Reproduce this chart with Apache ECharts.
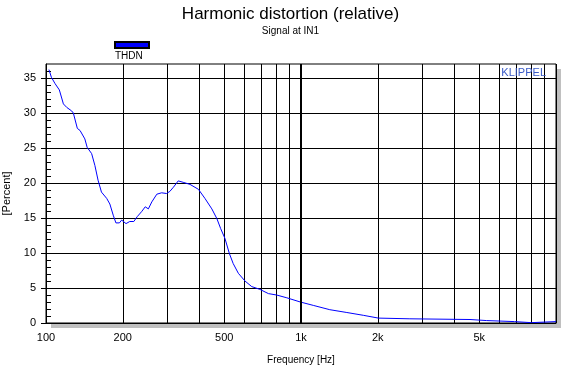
<!DOCTYPE html>
<html>
<head>
<meta charset="utf-8">
<script src="https://cdn.jsdelivr.net/npm/echarts@6/dist/echarts.min.js"></script>
<style>html,body{margin:0;padding:0;background:#fff;}#c{width:581px;height:369px;}</style>
</head>
<body>
<div id="c"></div>
<script>
// Data
var freq = [102.7,105,108.5,112.8,117,120.6,126,128,132.7,136,142,145,151,155.5,160,165,173,178,183.5,188,194,198,206,213,221,228,237,245,252,260,272,284,297,306,316,330,345,367,396,420,447,468,484,503,524,542,568,603,641,690,745,802,880,994,1122,1297,1513,1755,2012,2673,2720,4600,4670,5330,5420,6880,7000,8000,8130,10000];
var thdn = [36.2,35.1,34.2,33.3,31.3,30.8,30.3,30.0,27.8,27.5,26.3,25.1,24.2,22.5,20.4,18.7,17.8,17.0,15.4,14.3,14.3,14.7,14.2,14.5,14.5,15.2,15.9,16.6,16.3,17.3,18.4,18.6,18.5,18.8,19.4,20.3,20.1,19.8,19.1,17.8,16.3,14.9,13.5,12.1,9.9,8.5,7.1,6.0,5.2,4.8,4.2,4.0,3.6,3.0,2.5,1.9,1.5,1.1,0.7,0.6,0.5,0.5,0.35,0.35,0.2,0.2,0.05,0.05,0.2,0.2];
var xGridValues = [100,200,300,400,500,600,700,800,900,1000,2000,3000,4000,5000,6000,7000,8000,9000,10000];
var xLabelValues = [100,200,500,1000,2000,5000];
var yLabelValues = [0,5,10,15,20,25,30,35];
var yMinorValues = [1,2,3,4,6,7,8,9,11,12,13,14,16,17,18,19,21,22,23,24,26,27,28,29,31,32,33,34,36];
var thickLine = [1000];

var font = '"Liberation Sans", Arial, sans-serif';
var chart = echarts.init(document.getElementById('c'), null, {renderer: 'canvas'});
var seriesData = freq.map(function (f, i) { return [f, thdn[i]]; });
var gridBox = {left: 46, right: 25, top: 64, bottom: 46, containLabel: false, outerBoundsMode: 'none'};

chart.setOption({
  animation: false,
  backgroundColor: '#fff',
  title: [
    {
      text: 'Harmonic distortion (relative)',
      subtext: 'Signal at IN1',
      left: 'center',
      top: 1,
      itemGap: 3,
      textStyle: {fontFamily: font, fontSize: 17, fontWeight: 'normal', color: '#000'},
      subtextStyle: {fontFamily: font, fontSize: 10, color: '#000'}
    },
    {
      text: 'KLIPPEL',
      right: 35,
      top: 67,
      padding: 0,
      textStyle: {fontFamily: font, fontSize: 11, fontWeight: 'normal', color: '#3a5bc8'}
    },
    {
      text: 'THDN',
      left: 115,
      top: 51,
      padding: 0,
      textStyle: {fontFamily: font, fontSize: 10, fontWeight: 'normal', color: '#000'}
    }
  ],
  legend: {
    left: 114,
    top: 41,
    padding: 0,
    icon: 'rect',
    itemWidth: 34,
    itemHeight: 6,
    data: ['THDN'],
    formatter: function () { return ''; },
    textStyle: {fontSize: 1}
  },
  grid: [
    Object.assign({
      show: true,
      backgroundColor: '#fff',
      borderWidth: 0,
      borderColor: 'transparent',
      shadowColor: '#c0c0c0',
      shadowBlur: 0,
      shadowOffsetX: 5,
      shadowOffsetY: 5
    }, gridBox),
    Object.assign({
      show: true,
      backgroundColor: 'transparent',
      borderColor: '#000',
      borderWidth: 1
    }, gridBox)
  ],
  xAxis: [
    {
      type: 'log',
      gridIndex: 0,
      logBase: 10,
      min: 100,
      max: 10000,
      name: 'Frequency [Hz]',
      nameLocation: 'middle',
      nameGap: 32,
      nameTextStyle: {fontFamily: font, fontSize: 10, color: '#000'},
      axisLine: {show: true, lineStyle: {color: '#000', width: 1}},
      axisTick: {show: false, customValues: xGridValues},
      splitLine: {show: true, lineStyle: {color: '#000', width: 1}},
      axisLabel: {
        customValues: xLabelValues,
        margin: 9,
        fontFamily: font, fontSize: 11, color: '#000',
        formatter: function (v) { return v >= 1000 ? (v / 1000) + 'k' : String(v); }
      }
    },
    {
      type: 'log',
      gridIndex: 1,
      min: 100,
      max: 10000,
      show: false
    }
  ],
  yAxis: [
    {
      type: 'value',
      gridIndex: 0,
      min: 0,
      max: 37,
      interval: 5,
      name: '[Percent]',
      nameLocation: 'middle',
      nameGap: 25,
      nameRotate: 90,
      nameTextStyle: {fontFamily: font, fontSize: 11, color: '#000'},
      axisLine: {show: true, lineStyle: {color: '#000'}},
      axisTick: {show: true, length: 5, customValues: yLabelValues, lineStyle: {color: '#000'}},
      splitLine: {show: true, lineStyle: {color: '#000', width: 1}},
      axisLabel: {customValues: yLabelValues, margin: 10, fontFamily: font, fontSize: 11, color: '#000'}
    },
    {
      type: 'value',
      gridIndex: 1,
      min: 0,
      max: 37,
      position: 'left',
      axisLine: {show: false},
      axisTick: {show: true, inside: true, length: 5, customValues: yMinorValues, lineStyle: {color: '#000'}},
      axisLabel: {show: false},
      splitLine: {show: false}
    }
  ],
  series: [{
    name: 'THDN',
    type: 'line',
    xAxisIndex: 0,
    yAxisIndex: 0,
    data: seriesData,
    showSymbol: false,
    symbol: 'none',
    smooth: false,
    color: '#0000ff',
    itemStyle: {color: '#0000ff', borderColor: '#000', borderWidth: 1},
    lineStyle: {color: '#0000ff', width: 1},
    markLine: {
      silent: true,
      symbol: 'none',
      label: {show: false},
      lineStyle: {color: '#000', width: 2, type: 'solid'},
      data: thickLine.map(function (v) { return {xAxis: v}; })
    }
  }]
});
</script>
</body>
</html>
